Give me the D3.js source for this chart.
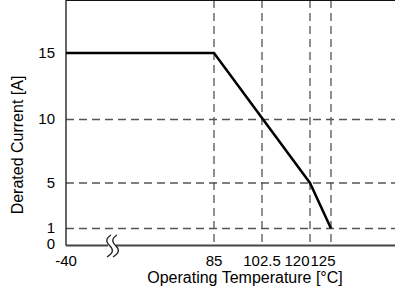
<!DOCTYPE html>
<html>
<head>
<meta charset="utf-8">
<script src="https://cdn.jsdelivr.net/npm/d3@7"></script>
<style>
  body { margin: 0; background: #fff; }
  svg { display: block; font-family: "Liberation Sans", Arial, sans-serif; }
</style>
</head>
<body>
<div id="chart"></div>
<script>
// derating curve
var temps = [-40, 85, 120, 125];
var currents = [15, 15, 5, 1];
var xTicks = [85, 102.5, 120, 125];
var yTicks = [1, 5, 10, 15];
var yLabels = [0, 1, 5, 10, 15];

var width = 395, height = 288;
var svg = d3.select("#chart").append("svg")
  .attr("width", width)
  .attr("height", height)
  .style("font-size", "15px");

// the chart is schematic, so both axes are piecewise
var x = d3.scaleLinear()
  .domain([-40, 85, 120, 125, 140])
  .range([66, 214, 310, 331, 395]);
var y = d3.scaleLinear()
  .domain([0, 1, 5, 10, 15, 18.6])
  .range([245.5, 228.5, 183, 119.5, 53, 5]);

var left = x(-40), right = width, top = y(18.6), bottom = y(0);

svg.append("rect")
  .attr("x", left).attr("y", top)
  .attr("width", right - left).attr("height", bottom - top)
  .attr("fill", "#e5e5e5");

// dashed guides
svg.selectAll(".hgrid").data(yTicks.slice(0, 3)).enter().append("line")
  .attr("x1", left).attr("x2", right)
  .attr("y1", function(d) { return y(d); })
  .attr("y2", function(d) { return y(d); })
  .attr("stroke", "#555").attr("stroke-width", 1.3)
  .attr("stroke-dasharray", "8,5");

svg.selectAll(".vgrid").data(xTicks).enter().append("line")
  .attr("x1", function(d) { return x(d); })
  .attr("x2", function(d) { return x(d); })
  .attr("y1", top).attr("y2", bottom)
  .attr("stroke", "#555").attr("stroke-width", 1.3)
  .attr("stroke-dasharray", "8,5");

// frame
svg.append("line")
  .attr("x1", left).attr("x2", right).attr("y1", top).attr("y2", top)
  .attr("stroke", "#111").attr("stroke-width", 2);
svg.append("line")
  .attr("x1", left).attr("x2", left).attr("y1", top).attr("y2", bottom)
  .attr("stroke", "#333").attr("stroke-width", 1.5);
svg.append("line")
  .attr("x1", left).attr("x2", 108).attr("y1", bottom).attr("y2", bottom)
  .attr("stroke", "#444").attr("stroke-width", 2);
svg.append("line")
  .attr("x1", 116).attr("x2", right).attr("y1", bottom).attr("y2", bottom)
  .attr("stroke", "#444").attr("stroke-width", 2);

// axis break mark
[0, 6].forEach(function(dx) {
  svg.append("path")
    .attr("d", "M" + (111 + dx) + ",235 c-6,4 -5,7 -1,11 c4,4 3,7 -3,11")
    .attr("fill", "none").attr("stroke", "#222").attr("stroke-width", 1.3);
});

// curve
var line = d3.line()
  .x(function(d, i) { return x(temps[i]); })
  .y(function(d) { return y(d); });
svg.append("path")
  .datum(currents)
  .attr("d", line)
  .attr("fill", "none")
  .attr("stroke", "#000")
  .attr("stroke-width", 2.5);

// tick labels
svg.selectAll(".ylab").data(yLabels).enter().append("text")
  .attr("x", 55)
  .attr("y", function(d) { return d === 0 ? y(0) - 1.5 : y(d) - 0.5; })
  .attr("dy", "0.35em")
  .attr("text-anchor", "end")
  .text(function(d) { return d; });

var xLabels = [-40].concat(xTicks);
svg.selectAll(".xlab").data(xLabels).enter().append("text")
  .attr("x", function(d) {
    if (d === 120) return x(120) - 0.5;
    if (d === 125) return x(120) + 0.5;
    return x(d);
  })
  .attr("y", 261)
  .attr("dy", "0.35em")
  .attr("text-anchor", function(d) {
    if (d === 120) return "end";
    if (d === 125) return "start";
    return "middle";
  })
  .text(function(d) { return d; });

svg.append("text")
  .attr("x", 245).attr("y", 283)
  .attr("text-anchor", "middle")
  .style("font-size", "16px")
  .text("Operating Temperature [\u00B0C]");

svg.append("text")
  .attr("transform", "translate(23,145) rotate(-90)")
  .attr("text-anchor", "middle")
  .style("font-size", "16px")
  .text("Derated Current [A]");
</script>
</body>
</html>
